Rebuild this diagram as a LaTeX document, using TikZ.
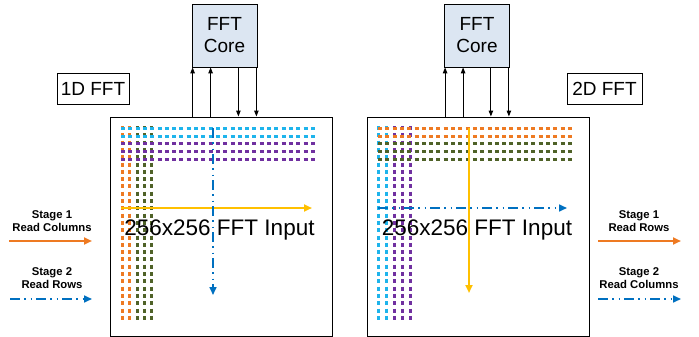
\documentclass[tikz,border=0pt]{standalone}
\usepackage{fontspec}
\setmainfont{Liberation Sans}
\usetikzlibrary{arrows.meta,positioning}
\definecolor{fftorange}{HTML}{EE7A22}
\definecolor{fftgreen}{HTML}{4F6228}
\definecolor{fftcyan}{HTML}{1EB4EC}
\definecolor{fftpurple}{HTML}{7030A0}
\definecolor{fftyellow}{HTML}{FFC000}
\definecolor{fftblue}{HTML}{0070C0}
\definecolor{corefill}{HTML}{DCE6F2}
\begin{document}
\begin{tikzpicture}[%
    x=1pt,y=-1pt,
    >={Triangle[length=8pt,width=7pt]},
    panel/.style={draw,line width=1pt,minimum width=222pt,minimum height=219pt,inner sep=0pt},
    core/.style={draw,fill=corefill,line width=0.8pt,minimum width=65pt,minimum height=63pt,
      inner sep=0pt,align=center,font=\fontsize{19}{22}\selectfont},
    tag/.style={draw,line width=0.8pt,minimum width=72pt,minimum height=31pt,inner sep=0pt,
      font=\fontsize{19}{22}\selectfont},
    title/.style={anchor=base,font=\fontsize{22.5}{27}\selectfont},
    legend/.style={align=center,font=\bfseries\fontsize{11.3}{13}\selectfont},
    dots/.style={line width=3pt,dash pattern=on 4pt off 3.3pt},
    stage1/.style={->,line width=2pt},
    stage2/.style={->,line width=1.6pt,fftblue,dash pattern=on 10pt off 4pt on 1.5pt off 5pt on 1.5pt off 4pt},
    link/.style={->,line width=1pt,>={Triangle[length=6pt,width=4.5pt]}}
  ]
  \useasboundingbox (0,0) rectangle (699,337);

  % panels and cores
  \node[panel] (left) at (221,226.5) {};
  \node[panel] (right) at (478.5,226.5) {};
  \node[core] (coreL) at (224.5,35.5) {FFT\\Core};
  \node[core] (coreR) at (477,35.5) {FFT\\Core};
  \node[tag] (tagL) at (93,88.5) {1D FFT};
  \node[tag,minimum width=75pt] (tagR) at (604.5,88.5) {2D FFT};

  % links between input and core
  \foreach \c/\p in {coreL/left,coreR/right} {
    \coordinate (\c up1) at ([xshift=1pt]\c.south west);
    \coordinate (\c up2) at ([xshift=19pt]\c.south west);
    \coordinate (\c dn1) at ([xshift=-19pt]\c.south east);
    \coordinate (\c dn2) at ([xshift=-1pt]\c.south east);
    \draw[link] (\c up1 |- \p.north) -- (\c up1);
    \draw[link] (\c up2 |- \p.north) -- (\c up2);
    \draw[link] (\c dn1) -- (\c dn1 |- \p.north);
    \draw[link] (\c dn2) -- (\c dn2 |- \p.north);
  }

  % 1D FFT: columns then rows
  \foreach \x/\c in {122/fftorange,129/fftorange,137/fftgreen,144/fftgreen,151/fftgreen}
    \draw[dots,\c] (\x,126) -- (\x,322);
  \foreach \y/\c in {128/fftcyan,136/fftcyan,143/fftpurple,151/fftpurple,159/fftpurple}
    \draw[dots,\c] (121,\y) -- (317,\y);
  \coordinate (colL1) at (121,208);
  \coordinate (colL2) at (312,208);
  \coordinate (rowL1) at (213,128);
  \coordinate (rowL2) at (213,295);
  \draw[stage1,fftyellow] (colL1) -- (colL2);
  \draw[stage2] (rowL1) -- (rowL2);
  \node[title] (inL) at (219.5,235) {256x256 FFT Input};

  % 2D FFT: rows then columns
  \foreach \x/\c in {378/fftcyan,386/fftcyan,394/fftpurple,402/fftpurple,410/fftpurple}
    \draw[dots,\c] (\x,126) -- (\x,322);
  \foreach \y/\c in {128/fftorange,136/fftorange,143/fftgreen,151/fftgreen,159/fftgreen}
    \draw[dots,\c] (378,\y) -- (573,\y);
  \coordinate (colR1) at (469,128);
  \coordinate (colR2) at (469,293);
  \coordinate (rowR1) at (378,208);
  \coordinate (rowR2) at (567,208);
  \draw[stage1,fftyellow] (colR1) -- (colR2);
  \draw[stage2] (rowR1) -- (rowR2);
  \node[title] (inR) at (477,235) {256x256 FFT Input};

  % legends
  \node[legend] (legL1) at (52,221) {Stage 1\\Read Columns};
  \node[legend] (legL2) at (52,278) {Stage 2\\Read Rows};
  \node[legend] (legR1) at (639,221) {Stage 1\\Read Rows};
  \node[legend] (legR2) at (639,278) {Stage 2\\Read Columns};
  \coordinate (aL1) at (9,241);   \coordinate (bL1) at (92,241);
  \coordinate (aL2) at (10,299);  \coordinate (bL2) at (92,299);
  \coordinate (aR1) at (598,241); \coordinate (bR1) at (681,241);
  \coordinate (aR2) at (598,299); \coordinate (bR2) at (681,299);
  \draw[stage1,fftorange] (aL1) -- (bL1);
  \draw[stage2] (aL2) -- (bL2);
  \draw[stage1,fftorange] (aR1) -- (bR1);
  \draw[stage2] (aR2) -- (bR2);

\end{tikzpicture}
\end{document}
